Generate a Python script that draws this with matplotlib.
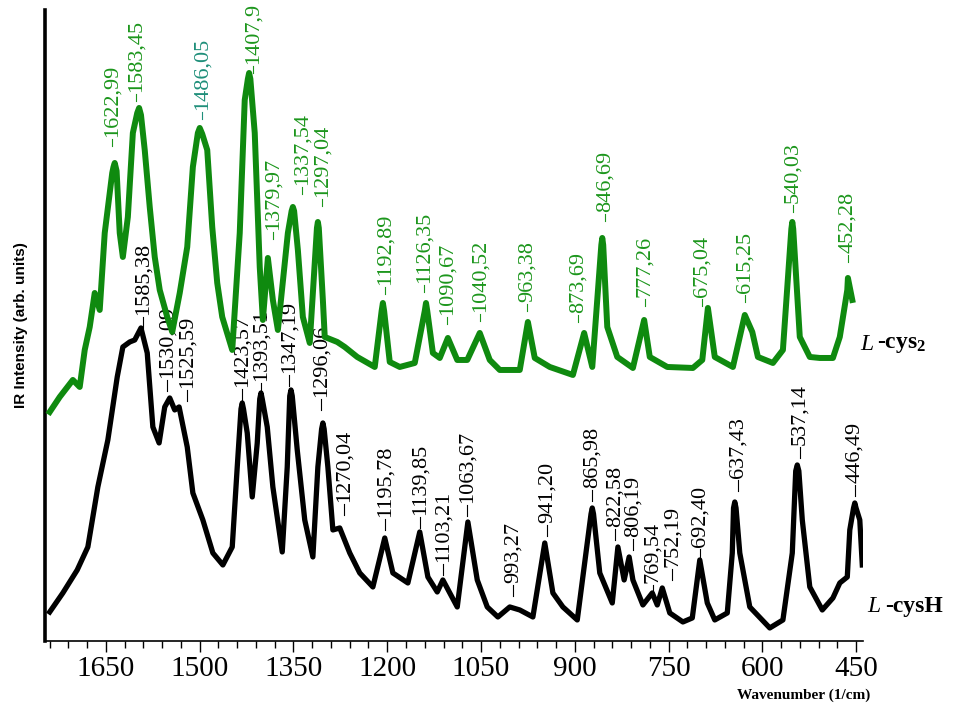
import matplotlib
matplotlib.use('Agg')
import matplotlib.pyplot as plt
from matplotlib.ticker import MultipleLocator

plt.rcParams['font.family'] = 'Liberation Serif'
plt.rcParams['mathtext.fontset'] = 'custom'
plt.rcParams['mathtext.rm'] = 'Liberation Serif'
plt.rcParams['mathtext.it'] = 'Liberation Serif:italic'
plt.rcParams['mathtext.bf'] = 'Liberation Serif:bold'

# L-cys2 spectrum (green, offset upwards)
cys2_wn = [1740, 1724, 1703, 1692, 1684, 1676, 1668, 1660, 1652, 1640, 1638, 1636, 1633,
           1628, 1623, 1615, 1607, 1600, 1597, 1594, 1588, 1580, 1572, 1564, 1552, 1544,
           1532, 1520, 1511, 1503, 1500, 1496, 1488, 1480, 1472, 1464, 1448, 1436, 1428,
           1423, 1421, 1419, 1412, 1404, 1399, 1391, 1383, 1375, 1359, 1353, 1351, 1349,
           1343, 1335, 1324, 1312.5, 1311, 1309.5, 1303, 1300, 1280, 1268, 1248, 1220,
           1209, 1207, 1205, 1196, 1180, 1156, 1140, 1138, 1136, 1127, 1116, 1103, 1088,
           1072, 1052, 1036, 1020, 988, 975, 964, 940, 903, 885, 872, 857.5, 856, 854.5,
           848, 832, 807, 789, 780, 752, 711, 696, 687, 676, 647, 628, 616, 607, 583, 567,
           553.5, 552, 550.5, 540, 524, 508, 487, 476, 464, 463, 456]
cys2_int = [2.29, 2.44, 2.61, 2.54, 2.91, 3.14, 3.48, 3.31, 4.08, 4.68, 4.74, 4.78, 4.70,
            4.08, 3.84, 4.24, 5.08, 5.28, 5.33, 5.26, 4.91, 4.34, 3.84, 3.51, 3.24, 3.09,
            3.48, 3.94, 4.74, 5.08, 5.13, 5.07, 4.91, 4.14, 3.58, 3.24, 2.91, 4.08, 5.41,
            5.62, 5.68, 5.62, 5.08, 3.74, 3.21, 3.83, 3.41, 3.11, 4.08, 4.30, 4.34, 4.30,
            3.91, 3.24, 2.98, 4.13, 4.19, 4.13, 3.41, 3.04, 2.99, 2.94, 2.84, 2.74,
            3.30, 3.38, 3.30, 2.79, 2.74, 2.78, 3.30, 3.38, 3.30, 2.88, 2.83, 3.03, 2.81,
            2.81, 3.08, 2.81, 2.71, 2.71, 3.19, 2.83, 2.74, 2.66, 3.08, 2.74, 3.96, 4.03, 3.96,
            3.14, 2.84, 2.73, 3.21, 2.84, 2.74, 2.73, 2.81, 3.33, 2.84, 2.74, 3.26, 3.09,
            2.84, 2.78, 2.91, 4.12, 4.19, 4.12, 3.04, 2.84, 2.83, 2.83, 3.04, 3.51, 3.63,
            3.41]

# L-cysH spectrum (black)
cysh_wn = [1740, 1719, 1696, 1679, 1663, 1647, 1632, 1623, 1612, 1604, 1594, 1584, 1575,
           1565, 1556, 1548, 1540, 1533, 1520, 1511, 1495, 1479, 1463, 1448, 1440, 1434,
           1432, 1430, 1424, 1416, 1408, 1404, 1402, 1400, 1392, 1383, 1368, 1360, 1356,
           1354, 1352, 1344, 1332, 1319, 1311, 1305, 1303, 1301, 1295, 1287, 1276, 1260,
           1244, 1223, 1204, 1191, 1167, 1148, 1135, 1120, 1111, 1088, 1071, 1056, 1040,
           1023, 1004, 988, 967, 948, 935, 919, 896, 874, 872, 870, 860, 840, 831, 821, 813,
           807, 791, 776, 768, 760, 748, 727, 712, 700, 688, 676, 656, 648, 646, 644, 642,
           636, 620, 588, 567, 552, 546.5, 544, 541.5, 536, 524, 504, 487, 476, 464, 460,
           454, 452, 450, 444, 440]
cysh_int = [0.29, 0.48, 0.71, 0.94, 1.54, 2.01, 2.64, 2.94, 2.99, 3.01, 3.13, 2.88, 2.14,
            1.98, 2.34, 2.43, 2.31, 2.34, 1.94, 1.48, 1.21, 0.88, 0.76, 0.94, 1.74, 2.32,
            2.38, 2.32, 2.08, 1.44, 1.98, 2.42, 2.48, 2.42, 2.14, 1.54, 0.89, 1.74, 2.45,
            2.51, 2.45, 1.91, 1.21, 0.84, 1.74, 2.12, 2.18, 2.12, 1.74, 1.11, 1.13, 0.88,
            0.68, 0.54, 1.03, 0.68, 0.58, 1.09, 0.64, 0.49, 0.61, 0.34, 1.19, 0.61, 0.34,
            0.24, 0.34, 0.31, 0.24, 0.98, 0.48, 0.34, 0.21, 1.27, 1.33, 1.27, 0.68, 0.38,
            0.94, 0.61, 0.84, 0.61, 0.36, 0.48, 0.36, 0.53, 0.28, 0.19, 0.23, 0.81, 0.38,
            0.21, 0.28, 0.88, 1.33, 1.39, 1.33, 0.88, 0.34, 0.13, 0.21, 0.88, 1.70, 1.76,
            1.70, 1.21, 0.54, 0.31, 0.43, 0.58, 0.64, 1.11, 1.33, 1.38, 1.33, 1.21, 0.76]

# peak annotations
cys2_labels = ['1622,99', '1583,45', '1486,05', '1407,9', '1379,97', '1337,54', '1297,04',
               '1192,89', '1126,35', '1090,67', '1040,52', '963,38', '873,69', '846,69',
               '777,26', '675,04', '615,25', '540,03', '452,28']
cys2_label_x = [1640, 1602, 1496, 1415, 1383, 1336, 1304, 1204, 1141, 1104, 1052, 976, 895,
                852, 788, 696, 628, 551, 463]
cys2_label_y = [5.04, 5.49, 5.31, 5.77, 4.11, 4.56, 4.44, 3.56, 3.58, 3.26, 3.29, 3.39, 3.28,
                4.29, 3.44, 3.44, 3.48, 4.38, 3.88]

cysh_labels = ['1585,38', '1530,09', '1525,59', '1423,57', '1393,51', '1347,19', '1296,06',
               '1270,04', '1195,78', '1139,85', '1103,21', '1063,67', '993,27', '941,20',
               '865,98', '822,58', '806,19', '769,54', '752,19', '692,40', '637,43', '537,14',
               '446,49']
cysh_label_x = [1591, 1552, 1520, 1432, 1402, 1357, 1306, 1269, 1204, 1148, 1111, 1072, 999,
                944, 872, 836, 807, 775, 744, 700, 639, 540, 452]
cysh_label_y = [3.26, 2.63, 2.53, 2.54, 2.60, 2.68, 2.44, 1.39, 1.24, 1.26, 0.79, 1.38, 0.58,
                1.18, 1.53, 1.14, 1.04, 0.58, 0.74, 0.94, 1.63, 1.96, 1.58]

green = '#0f8a0f'
label_green = '#1c961c'

fig = plt.figure(figsize=(9.63, 7.07), dpi=100)
ax = fig.add_axes([0.0467, 0.0934, 0.8495, 0.8925])

ax.plot(cysh_wn, cysh_int, color='black', lw=3.8, solid_joinstyle='round', zorder=2)
for txt, x, y in zip(cysh_labels, cysh_label_x, cysh_label_y):
    ax.text(x, y, txt, rotation=90, ha='center', va='bottom', fontsize=16,
            color='black', zorder=3)
    ax.plot([x, x], [y - 0.02, y - 0.13], color='black', lw=0.8, zorder=3)

ax.plot(cys2_wn, cys2_int, color=green, lw=4.3, solid_joinstyle='round', zorder=4)
for txt, x, y in zip(cys2_labels, cys2_label_x, cys2_label_y):
    c = '#1f8f7a' if txt == '1486,05' else label_green
    ax.text(x, y, txt, rotation=90, ha='center', va='bottom', fontsize=16,
            color=c, zorder=5)
    ax.plot([x, x], [y - 0.02, y - 0.09], color=c, lw=0.8, zorder=5)

# sample names
ax.text(444, 2.96, 'L', style='italic', fontsize=17, ha='left', va='center')
ax.text(417, 2.96, r'-cys$_\mathbf{2}$', fontweight='bold', fontsize=17, ha='left', va='center')
ax.text(432, 0.34, 'L', style='italic', fontsize=17, ha='left', va='center')
ax.text(404, 0.34, '-cysH', fontweight='bold', fontsize=17, ha='left', va='center')

ax.set_xlim(1747.6, 438.8)
ax.set_ylim(0, 6.31)
ax.xaxis.set_major_locator(MultipleLocator(150))
ax.xaxis.set_minor_locator(MultipleLocator(30))
ax.tick_params(axis='x', which='major', length=8, width=1, labelsize=21, pad=3)
ax.tick_params(axis='x', which='minor', length=5, width=1)
ax.set_yticks([])
ax.spines['top'].set_visible(False)
ax.spines['right'].set_visible(False)
ax.spines['left'].set_linewidth(2.6)
ax.spines['bottom'].set_linewidth(1.2)

fig.text(0.835, 0.017, 'Wavenumber (1/cm)', fontweight='bold', fontsize=11,
         ha='center', va='center')
fig.text(0.022, 0.54, 'IR Intensity (arb. units)', family='Liberation Sans',
         fontweight='bold', fontsize=11, rotation=90, ha='center', va='center')

fig.savefig('out.png', dpi=100)
